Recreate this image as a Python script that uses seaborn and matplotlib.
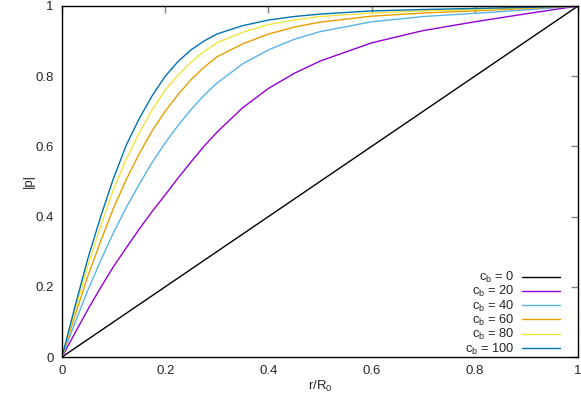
import matplotlib
matplotlib.use("Agg")
import matplotlib.pyplot as plt
import seaborn as sns
import pandas as pd

# values (r/R0 vs |p|)
r_vals = [0, 0.025, 0.05, 0.075, 0.1, 0.125, 0.15, 0.175, 0.2, 0.225, 0.25, 0.275,
          0.3, 0.35, 0.4, 0.45, 0.5, 0.6, 0.7, 0.8, 0.9, 1.0]
p_cb0 = [0, 0.025, 0.05, 0.075, 0.1, 0.125, 0.15, 0.175, 0.2, 0.225, 0.25, 0.275,
         0.3, 0.35, 0.4, 0.45, 0.5, 0.6, 0.7, 0.8, 0.9, 1.0]
p_cb20 = [0, 0.068, 0.135, 0.198, 0.258, 0.312, 0.365, 0.415, 0.462, 0.51, 0.556, 0.6,
          0.64, 0.71, 0.765, 0.808, 0.843, 0.895, 0.93, 0.955, 0.978, 1.0]
p_cb40 = [0, 0.097, 0.19, 0.275, 0.355, 0.427, 0.493, 0.555, 0.61, 0.66, 0.705, 0.745,
          0.78, 0.835, 0.875, 0.905, 0.927, 0.955, 0.97, 0.979, 0.989, 1.0]
p_cb60 = [0, 0.117, 0.23, 0.33, 0.425, 0.507, 0.58, 0.645, 0.70, 0.748, 0.79, 0.825,
          0.855, 0.892, 0.92, 0.94, 0.954, 0.971, 0.98, 0.986, 0.993, 1.0]
p_cb80 = [0, 0.132, 0.26, 0.373, 0.478, 0.565, 0.64, 0.705, 0.76, 0.803, 0.84, 0.87,
          0.895, 0.925, 0.947, 0.96, 0.97, 0.98, 0.986, 0.99, 0.995, 1.0]
p_cb100 = [0, 0.143, 0.28, 0.40, 0.51, 0.605, 0.68, 0.745, 0.80, 0.842, 0.875, 0.90,
           0.92, 0.944, 0.96, 0.97, 0.977, 0.986, 0.99, 0.993, 0.996, 1.0]

cb_labels = ["0", "20", "40", "60", "80", "100"]
series = [p_cb0, p_cb20, p_cb40, p_cb60, p_cb80, p_cb100]
colors = ["#000000", "#9400d3", "#56b4e9", "#e69f00", "#f0e442", "#0072b2"]

rows = []
for lab, vals in zip(cb_labels, series):
    for x, y in zip(r_vals, vals):
        rows.append({"r": x, "p": y, "cb": lab})
df = pd.DataFrame(rows)

sns.set_style("white")
plt.rcParams['font.family'] = ['Liberation Sans', 'DejaVu Sans']
plt.rcParams['mathtext.fontset'] = 'custom'
plt.rcParams['mathtext.rm'] = 'Liberation Sans'
plt.rcParams['mathtext.it'] = 'Liberation Sans'

fig = plt.figure(figsize=(5.81, 4.0), dpi=100)
ax = fig.add_axes([62 / 581, 43 / 400, 516 / 581, 351 / 400])

sns.lineplot(data=df, x="r", y="p", hue="cb", palette=colors, linewidth=1.0,
             ax=ax, legend=False, estimator=None, sort=False)

ax.set_xlim(0, 1)
ax.set_ylim(0, 1)
ax.set_xticks([0, 0.2, 0.4, 0.6, 0.8, 1])
ax.set_yticks([0, 0.2, 0.4, 0.6, 0.8, 1])
ax.set_xticklabels(["0", "0.2", "0.4", "0.6", "0.8", "1"])
ax.set_yticklabels(["0", "0.2", "0.4", "0.6", "0.8", "1"])
ax.tick_params(direction="in", length=5, width=1, color="#808080",
               top=True, right=True, labelsize=9.5, pad=6)
for sp in ax.spines.values():
    sp.set_color("black")
    sp.set_linewidth(1.0)

ax.set_xlabel("r/R$_0$", fontsize=9.5, labelpad=1)
ax.set_ylabel("|p|", fontsize=9.5, labelpad=0)

handles = [plt.Line2D([], [], color=c, linewidth=1.0) for c in colors]
labels = ["c$_b$ = " + s for s in cb_labels]
ax.legend(handles, labels, loc="lower right", markerfirst=False, frameon=False,
          fontsize=9.3, labelspacing=-0.06, handlelength=2.9, handletextpad=0.6,
          borderaxespad=0.0, bbox_to_anchor=(0.975, -0.014))

fig.savefig("out.png", dpi=100)
